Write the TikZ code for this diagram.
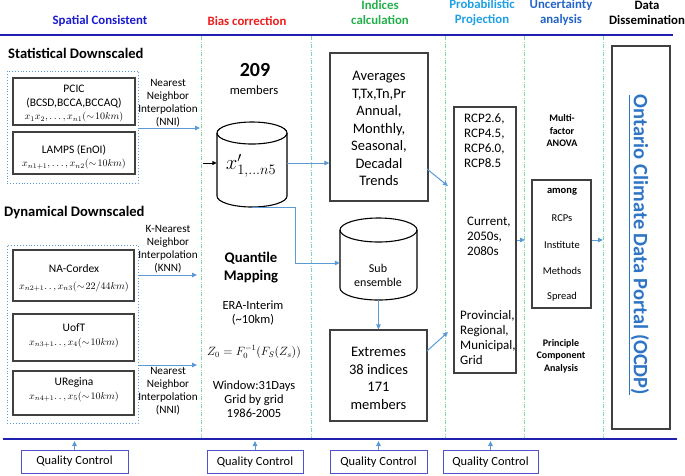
\documentclass[tikz,border=0pt]{standalone}
\usepackage{fontspec}
\setmainfont{Carlito}
\usetikzlibrary{arrows.meta}
\definecolor{hblue}{HTML}{1A1AD0}
\definecolor{hred}{HTML}{EE1C1C}
\definecolor{hgreen}{HTML}{22B04A}
\definecolor{hcyan}{HTML}{1EA0E6}
\definecolor{hunc}{HTML}{2464C8}
\definecolor{arrblue}{HTML}{5B9BD5}
\definecolor{boxgray}{HTML}{404040}
\definecolor{lineblue}{HTML}{1F1FB0}
\definecolor{dashgreen}{HTML}{80D8A4}
\definecolor{qcborder}{HTML}{5050D0}
\definecolor{ocdp}{HTML}{2E75C6}
\begin{document}
\begin{tikzpicture}[x=1pt,y=-1pt,
  box/.style={draw=boxgray, line width=1.2pt, inner sep=0pt},
  grp/.style={draw=arrblue, line width=0.9pt, dotted, inner sep=0pt},
  arr/.style={draw=arrblue, line width=1pt, -{Triangle[length=5pt,width=4.5pt]}},
  hdr/.style={font=\bfseries\fontsize{12.8}{15}\selectfont, align=center},
  lbl/.style={font=\fontsize{11.2}{13}\selectfont, align=center, inner sep=0pt},
  txt/.style={font=\fontsize{11.5}{13.5}\selectfont, align=center, inner sep=0pt},
  big/.style={font=\fontsize{14.5}{17.5}\selectfont, align=center, inner sep=0pt},
  mid/.style={font=\fontsize{13}{15}\selectfont, align=left, inner sep=0pt},
  sml/.style={font=\fontsize{10.5}{13}\selectfont, inner sep=0pt},
  smb/.style={font=\bfseries\fontsize{10}{12.5}\selectfont, align=center, inner sep=0pt},
  dsh/.style={draw=dashgreen, line width=0.8pt, dash pattern=on 4pt off 1.5pt on 1pt off 1.5pt},
  qc/.style={draw=qcborder, line width=1pt, minimum height=23pt, inner sep=0pt, font=\fontsize{12.4}{14}\selectfont},
  cyl/.style={draw=black, line width=1.1pt}
]
\useasboundingbox (0,0) rectangle (685,475);

% headers
\node[hdr, text=hblue] (h1) at (100,21) {Spatial Consistent};
\node[hdr, text=hred] (h2) at (247,21) {Bias correction};
\node[hdr, text=hgreen] (h3) at (380,13) {Indices\\calculation};
\node[hdr, text=hcyan] (h4) at (482,13) {Probabilistic\\Projection};
\node[hdr, text=hunc] (h5) at (561,13) {Uncertainty\\analysis};
\node[hdr, text=black] (h6) at (647,13) {Data\\Dissemination};

% horizontal lines
\coordinate (tl) at (0,35);
\coordinate (tr) at (673,35);
\coordinate (bl) at (3,439);
\coordinate (br) at (677,439);
\draw[lineblue, line width=2pt] (tl) -- (tr);

% dashed separators
\foreach \x/\n in {201/a,311/b,445/c,524/d,603/e}{
  \coordinate (d\n t) at (\x,36);
  \coordinate (d\n b) at (\x,438);
  \draw[dsh] (d\n t) -- (d\n b);
}
\draw[lineblue, line width=2pt] (bl) -- (br);

% Statistical downscaled
\node[font=\bfseries\fontsize{14.6}{16}\selectfont, anchor=west, inner sep=0pt] (sdh) at (8,53) {Statistical Downscaled};
\node[grp, minimum width=131pt, minimum height=112pt] (g1) at (72.5,127) {};
\node[box, minimum width=122pt, minimum height=47pt] (pcic) at (74,101.5) {};
\node[txt] (pcict) at (74,104) {PCIC\\(BCSD,BCCA,BCCAQ)\\{\fontsize{10.2}{12}\selectfont$x_1x_2,\ldots,x_{n1}(\sim\!10km)$}};
\node[box, minimum width=122pt, minimum height=42pt] (lamps) at (74,153) {};
\node[txt] (lampst) at (74,157) {LAMPS (EnOI)\\{\fontsize{10.2}{12}\selectfont$x_{n1+1},\ldots,x_{n2}(\sim\!10km)$}};

\coordinate (a1e) at (200,128);
\draw[arr] (g1.east |- a1e) -- (a1e);
\node[lbl] (nni1) at (168,103) {Nearest\\Neighbor\\Interpolation\\(NNI)};

% Dynamical downscaled
\node[font=\bfseries\fontsize{14.6}{16}\selectfont, anchor=west, inner sep=0pt] (ddh) at (4,213) {Dynamical Downscaled};
\node[grp, minimum width=131pt, minimum height=178pt] (g2) at (72.5,334) {};
\node[box, minimum width=121pt, minimum height=51pt] (nac) at (73.5,275.5) {};
\node[txt] (nact) at (74,278) {NA-Cordex\\[3pt]{\fontsize{10.2}{12}\selectfont$x_{n2+1}\ldotp\ldotp,x_{n3}(\sim\!22/44km)$}};
\node[box, minimum width=121pt, minimum height=47pt] (uoft) at (73.5,337.5) {};
\node[txt] (uoftt) at (74,336) {UofT\\{\fontsize{10.2}{12}\selectfont$x_{n3+1}\ldotp\ldotp,x_{4}(\sim\!10km)$}};
\node[box, minimum width=121pt, minimum height=44pt] (ureg) at (73.5,393) {};
\node[txt] (uregt) at (74,390) {URegina\\{\fontsize{10.2}{12}\selectfont$x_{n4+1}\ldotp\ldotp,x_{5}(\sim\!10km)$}};

\coordinate (a2e) at (197,275);
\coordinate (a3e) at (197,365);
\draw[arr] (g2.east |- a2e) -- (a2e);
\draw[arr] (g2.east |- a3e) -- (a3e);
\node[lbl] (knn) at (168,249.5) {K-Nearest\\Neighbor\\Interpolation\\(KNN)};
\node[lbl] (nni2) at (168,391.5) {Nearest\\Neighbor\\Interpolation\\(NNI)};

% Bias correction column
\node[font=\bfseries\fontsize{20}{22}\selectfont, inner sep=0pt] (n209) at (255,70) {209};
\node[font=\fontsize{12.6}{14}\selectfont, inner sep=0pt] (mem) at (254,90) {members};
\draw[cyl, fill=white] (217,133) -- (217,196) arc[start angle=180,end angle=360,x radius=35pt,y radius=11pt] -- (287,133);
\draw[cyl] (252,133) ellipse[x radius=35pt, y radius=11pt];
\node[minimum width=70pt, minimum height=85pt, inner sep=0pt] (cyl1) at (252,164.5) {};
\node[inner sep=0pt] (xp) at (251,166) {\fontsize{20.5}{22}\selectfont$x'_{1,\ldots n5}$};
\coordinate (bin) at (203,163);
\draw[black, line width=1pt, -{Triangle[length=4.5pt,width=4pt]}] (bin) -- (bin -| cyl1.west);

\node[font=\bfseries\fontsize{14.7}{18}\selectfont, align=center, inner sep=0pt] (qm) at (251,268) {Quantile\\Mapping};
\node[font=\fontsize{12.5}{14}\selectfont, align=center, inner sep=0pt] (era) at (253,313) {ERA-Interim\\(\textasciitilde10km)};
\node[inner sep=0pt] (eq) at (254,352) {\fontsize{11.8}{13}\selectfont$Z_0=F_0^{-1}(F_S(Z_s))$};
\node[font=\fontsize{12.5}{14}\selectfont, align=center, inner sep=0pt] (win) at (254,399) {Window:31Days\\Grid by grid\\1986-2005};

% Indices column
\node[box, minimum width=98pt, minimum height=148pt] (avg) at (379,127) {};
\node[big] (avgt) at (379,128.5) {Averages\\T,Tx,Tn,Pr\\Annual,\\Monthly,\\Seasonal,\\Decadal\\Trends};
\coordinate (c1y) at (0,163);
\draw[arr] (cyl1.east |- c1y) -- (c1y -| avg.west);

\draw[cyl, fill=white] (340,230) -- (340,288) arc[start angle=180,end angle=360,x radius=38.5pt,y radius=12pt] -- (417,230);
\draw[cyl] (378.5,230) ellipse[x radius=38.5pt, y radius=12pt];
\node[minimum width=77pt, minimum height=82pt, inner sep=0pt] (sub) at (378.5,259) {};
\node[txt, font=\fontsize{12}{14}\selectfont] (subt) at (378,275) {Sub\\ensemble};
\coordinate (bend) at (295,263);
\draw[arr] (cyl1.south) -| (bend) -- (bend -| sub.west);

\node[box, minimum width=97pt, minimum height=91pt] (ext) at (378.5,375.5) {};
\node[big] (extt) at (378.5,378.5) {Extremes\\38 indices\\171\\members};
\draw[arr] (sub.south) -- (ext.north);

% Probabilistic column
\node[box, minimum width=62pt, minimum height=266pt] (prob) at (485,240) {};
\node[mid, anchor=north west] (rcp) at (464,114) {RCP2.6,\\RCP4.5,\\RCP6.0,\\RCP8.5};
\node[mid, anchor=north west] (cur) at (467,217) {Current,\\2050s,\\2080s};
\node[mid, anchor=north west] (prov) at (460,310) {Provincial,\\Regional,\\Municipal,\\Grid};
\coordinate (p1) at (448,186);
\coordinate (p2) at (448,332);
\coordinate (q1) at (427,169);
\coordinate (q2) at (427,351);
\draw[arr] (q1) -- (p1);
\draw[arr] (q2) -- (p2);

% Uncertainty column
\node[smb] (anova) at (562,131) {Multi-\\factor\\ANOVA};
\node[box, minimum width=59pt, minimum height=128pt] (among) at (561.5,244) {};
\node[smb, font=\bfseries\fontsize{10.5}{12}\selectfont] (amongt) at (562,192) {among};
\node[sml] (rcps) at (562,218) {RCPs};
\node[sml] (inst) at (562,244.5) {Institute};
\node[sml] (meth) at (562,271) {Methods};
\node[sml] (spr) at (562,297) {Spread};
\node[smb] (pca) at (561,356) {Principle\\Component\\Analysis};
\coordinate (u1) at (525,240);
\draw[arr] (prob.east |- u1) -- (u1);
\coordinate (u2) at (603,240);
\draw[arr] (among.east |- u2) -- (u2);

% Data dissemination
\node[box, minimum width=58pt, minimum height=383pt] (portal) at (641,237.5) {};
\node[rotate=-90, inner sep=0pt, text=ocdp, font=\bfseries\fontsize{20.5}{22}\selectfont] (ocdpt) at (639,245) {\underline{Ontario Climate Data Portal (OCDP)}};

% Quality control
\node[qc, minimum width=107pt] (qc1) at (74.5,461.5) {Quality Control};
\node[qc, minimum width=96pt] (qc2) at (255,462) {Quality Control};
\node[qc, minimum width=97pt] (qc3) at (378.5,462) {Quality Control};
\node[qc, minimum width=95pt] (qc4) at (490.5,462) {Quality Control};
\foreach \q in {qc1,qc2,qc3,qc4}{
  \draw[arr] (\q.north) -- (\q.north |- 0,441);
}
\end{tikzpicture}
\end{document}
